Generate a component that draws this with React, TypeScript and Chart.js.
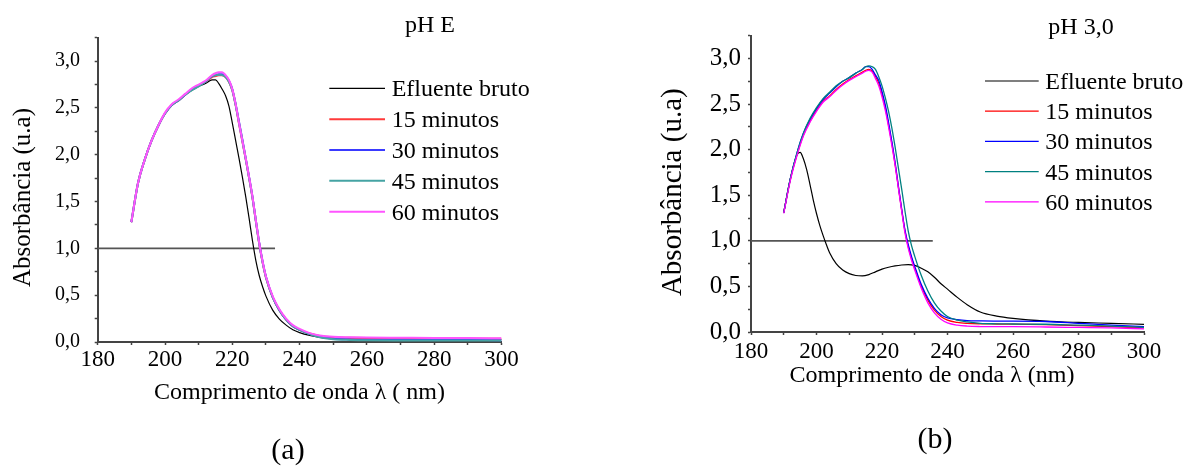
import React, { useEffect, useRef } from 'react';
import { Chart, registerables } from 'chart.js';

Chart.register(...registerables);

const FONT = '"Liberation Serif", "Times New Roman", serif';
const AXIS = '#444444';

// ---------- shared tick definitions ----------
const xMajorTicks = [180, 200, 220, 240, 260, 280, 300];
const yMajorTicks = [0, 0.5, 1, 1.5, 2, 2.5, 3];
const seriesLabels = ['Efluente bruto', '15 minutos', '30 minutos', '45 minutos', '60 minutos'];

// ---------- panel (a) pH E ----------
const wavelengthsA = [190, 192, 194, 196, 198, 200, 202, 204, 206, 208, 210, 212, 214, 215, 216, 217, 218, 219, 220, 221, 222, 223, 224, 225, 226, 227, 228, 229, 230, 232, 234, 236, 238, 240, 243, 246, 250, 255, 260, 270, 280, 290, 300];
const brutoA = [1.28, 1.70, 1.95, 2.15, 2.31, 2.44, 2.53, 2.58, 2.64, 2.69, 2.73, 2.76, 2.80, 2.80, 2.76, 2.70, 2.63, 2.52, 2.34, 2.15, 1.96, 1.76, 1.55, 1.32, 1.08, 0.87, 0.71, 0.59, 0.49, 0.34, 0.245, 0.18, 0.13, 0.10, 0.07, 0.05, 0.035, 0.03, 0.028, 0.027, 0.026, 0.025, 0.025];
const min15A = [1.28, 1.70, 1.95, 2.15, 2.31, 2.44, 2.53, 2.58, 2.64, 2.70, 2.74, 2.78, 2.83, 2.84, 2.85, 2.85, 2.83, 2.78, 2.69, 2.53, 2.33, 2.14, 1.95, 1.75, 1.54, 1.29, 1.05, 0.85, 0.69, 0.48, 0.34, 0.24, 0.17, 0.13, 0.09, 0.065, 0.05, 0.045, 0.042, 0.04, 0.038, 0.036, 0.035];
const min30A = [1.28, 1.70, 1.95, 2.15, 2.31, 2.44, 2.53, 2.58, 2.64, 2.70, 2.74, 2.78, 2.84, 2.85, 2.86, 2.86, 2.84, 2.79, 2.70, 2.54, 2.35, 2.16, 1.96, 1.76, 1.55, 1.30, 1.06, 0.86, 0.70, 0.48, 0.34, 0.24, 0.17, 0.13, 0.085, 0.055, 0.035, 0.028, 0.025, 0.023, 0.022, 0.021, 0.02];
const min45A = [1.28, 1.70, 1.95, 2.15, 2.31, 2.44, 2.53, 2.58, 2.64, 2.69, 2.73, 2.78, 2.84, 2.85, 2.855, 2.85, 2.83, 2.78, 2.69, 2.53, 2.34, 2.15, 1.95, 1.75, 1.54, 1.29, 1.05, 0.85, 0.69, 0.48, 0.34, 0.24, 0.17, 0.13, 0.085, 0.05, 0.03, 0.022, 0.018, 0.016, 0.015, 0.015, 0.015];
const min60A = [1.28, 1.70, 1.95, 2.15, 2.31, 2.45, 2.54, 2.59, 2.65, 2.71, 2.75, 2.79, 2.85, 2.87, 2.88, 2.88, 2.85, 2.80, 2.70, 2.54, 2.34, 2.15, 1.96, 1.76, 1.55, 1.30, 1.06, 0.86, 0.70, 0.49, 0.35, 0.25, 0.18, 0.14, 0.095, 0.07, 0.055, 0.05, 0.047, 0.045, 0.043, 0.042, 0.04];
const refLineA = [180, 232.7];

// ---------- panel (b) pH 3,0 ----------
const wavelengthsB = [190, 192, 194, 196, 198, 200, 202, 204, 206, 208, 210, 212, 214, 215, 216, 217, 218, 219, 220, 221, 222, 223, 224, 225, 226, 227, 228, 229, 230, 232, 234, 236, 238, 240, 243, 246, 250, 255, 260, 270, 280, 290, 300];
const wavelengthsBrutoB = [190, 192, 194, 195, 196, 197, 198, 199, 200, 201, 202, 203, 204, 206, 208, 210, 212, 214, 216, 218, 220, 222, 224, 226, 228, 230, 232, 234, 236, 238, 240, 243, 246, 250, 255, 260, 270, 280, 290, 300];
const brutoB = [1.31, 1.68, 1.94, 1.97, 1.90, 1.78, 1.62, 1.45, 1.30, 1.17, 1.06, 0.96, 0.87, 0.75, 0.68, 0.64, 0.62, 0.615, 0.63, 0.66, 0.69, 0.71, 0.725, 0.735, 0.74, 0.73, 0.70, 0.66, 0.60, 0.53, 0.47, 0.38, 0.30, 0.22, 0.175, 0.15, 0.12, 0.105, 0.095, 0.084];
const min15B = [1.31, 1.67, 1.94, 2.16, 2.31, 2.43, 2.53, 2.59, 2.66, 2.72, 2.77, 2.81, 2.85, 2.87, 2.88, 2.86, 2.80, 2.73, 2.61, 2.46, 2.27, 2.07, 1.84, 1.59, 1.34, 1.11, 0.94, 0.81, 0.70, 0.50, 0.35, 0.24, 0.17, 0.13, 0.105, 0.095, 0.09, 0.088, 0.086, 0.08, 0.07, 0.058, 0.045];
const min30B = [1.31, 1.68, 1.96, 2.18, 2.33, 2.45, 2.55, 2.62, 2.69, 2.75, 2.79, 2.84, 2.88, 2.91, 2.91, 2.88, 2.82, 2.76, 2.64, 2.49, 2.30, 2.09, 1.86, 1.60, 1.35, 1.12, 0.96, 0.83, 0.72, 0.52, 0.37, 0.26, 0.19, 0.155, 0.135, 0.125, 0.122, 0.12, 0.12, 0.115, 0.095, 0.075, 0.058];
const min45B = [1.31, 1.68, 1.96, 2.18, 2.34, 2.46, 2.56, 2.63, 2.70, 2.75, 2.79, 2.84, 2.88, 2.91, 2.92, 2.91, 2.88, 2.80, 2.70, 2.57, 2.42, 2.24, 2.03, 1.80, 1.57, 1.33, 1.11, 0.95, 0.83, 0.62, 0.45, 0.32, 0.23, 0.17, 0.13, 0.11, 0.095, 0.09, 0.088, 0.085, 0.075, 0.065, 0.05];
const min60B = [1.30, 1.66, 1.93, 2.15, 2.30, 2.42, 2.52, 2.58, 2.65, 2.71, 2.76, 2.80, 2.84, 2.86, 2.87, 2.85, 2.78, 2.70, 2.58, 2.43, 2.25, 2.05, 1.83, 1.58, 1.33, 1.09, 0.92, 0.79, 0.68, 0.48, 0.32, 0.21, 0.14, 0.10, 0.075, 0.065, 0.06, 0.058, 0.058, 0.055, 0.05, 0.045, 0.035];
const refLineB = [180, 235.5];

const toPoints = (xs: number[], ys: number[]) => xs.map((x, i) => ({ x, y: ys[i] }));

type Panel = {
  canvasW: number;
  canvasH: number;
  area: { left: number; top: number; right: number; bottom: number };
  colors: string[];
  widths: number[];
  series: { x: number[]; y: number[] }[];
  refLine: number[];
  xTickSize: number;
  yTickSize: number;
  xTickPad: number;
  yTickPad: number;
  annot: any;
};

const panelA: Panel = {
  canvasW: 600,
  canvasH: 466,
  area: { left: 97.7, top: 37.7, right: 501.5, bottom: 342 },
  colors: ['#000000', '#ff3a3a', '#3a3aff', '#45a3a3', '#ff55ff'],
  widths: [1.2, 2, 2, 2, 2],
  series: [
    { x: wavelengthsA, y: brutoA },
    { x: wavelengthsA, y: min15A },
    { x: wavelengthsA, y: min30A },
    { x: wavelengthsA, y: min45A },
    { x: wavelengthsA, y: min60A },
  ],
  refLine: refLineA,
  xTickSize: 23,
  yTickSize: 20,
  xTickPad: 1.5,
  yTickPad: 14.7,
  annot: {
    title: 'pH E', titleX: 405, titleY: 32.3, titleSize: 24,
    legX1: 329.3, legX2: 385, legTextX: 391.7, legY0: 88.3, legStep: 30.85, legSize: 24,
    xTitle: 'Comprimento de onda λ ( nm)', xTitleX: 299.5, xTitleY: 398.7, xTitleSize: 24,
    yTitle: 'Absorbância (u.a)', yTitleX: 29.5, yTitleY: 197.5, yTitleSize: 25,
    caption: '(a)', capX: 288, capY: 451, capSize: 30,
  },
};

const panelB: Panel = {
  canvasW: 586,
  canvasH: 466,
  area: { left: 151, top: 35.7, right: 544, bottom: 332 },
  colors: ['#000000', '#ff0000', '#0000ff', '#008080', '#ff00ff'],
  widths: [1.2, 1.3, 1.3, 1.3, 1.3],
  series: [
    { x: wavelengthsBrutoB, y: brutoB },
    { x: wavelengthsB, y: min15B },
    { x: wavelengthsB, y: min30B },
    { x: wavelengthsB, y: min45B },
    { x: wavelengthsB, y: min60B },
  ],
  refLine: refLineB,
  xTickSize: 23,
  yTickSize: 25,
  xTickPad: 3,
  yTickPad: 7,
  annot: {
    title: 'pH 3,0', titleX: 448.3, titleY: 34.3, titleSize: 24,
    legX1: 385, legX2: 438.7, legTextX: 445.3, legY0: 81, legStep: 30.2, legSize: 24,
    xTitle: 'Comprimento de onda λ (nm)', xTitleX: 332, xTitleY: 382, xTitleSize: 24,
    yTitle: 'Absorbância (u.a)', yTitleX: 80.9, yTitleY: 192.2, yTitleSize: 29,
    caption: '(b)', capX: 335, capY: 440, capSize: 30,
  },
};

const annotPlugin = {
  id: 'annot',
  afterDraw(chart: any, _args: any, o: any) {
    const ctx: CanvasRenderingContext2D = chart.ctx;
    ctx.save();
    ctx.fillStyle = '#000';
    ctx.textAlign = 'left';
    ctx.textBaseline = 'alphabetic';
    // panel title
    ctx.font = `${o.titleSize}px ${FONT}`;
    ctx.fillText(o.title, o.titleX, o.titleY);
    // legend
    ctx.font = `${o.legSize}px ${FONT}`;
    let row = 0;
    chart.data.datasets.forEach((ds: any) => {
      if (!ds.label) return;
      const y = o.legY0 + row * o.legStep;
      ctx.strokeStyle = ds.borderColor;
      ctx.lineWidth = ds.borderWidth;
      ctx.beginPath();
      ctx.moveTo(o.legX1, y);
      ctx.lineTo(o.legX2, y);
      ctx.stroke();
      ctx.fillText(ds.label, o.legTextX, y + 8);
      row++;
    });
    // x axis title
    ctx.textAlign = 'center';
    ctx.font = `${o.xTitleSize}px ${FONT}`;
    ctx.fillText(o.xTitle, o.xTitleX, o.xTitleY);
    // y axis title
    ctx.save();
    ctx.translate(o.yTitleX, o.yTitleY);
    ctx.rotate(-Math.PI / 2);
    ctx.font = `${o.yTitleSize}px ${FONT}`;
    ctx.fillText(o.yTitle, 0, 0);
    ctx.restore();
    // caption
    ctx.textBaseline = 'middle';
    ctx.font = `${o.capSize}px ${FONT}`;
    ctx.fillText(o.caption, o.capX, o.capY);
    ctx.restore();
  },
};

const isMajor = (v: number, list: number[]) => list.some((m) => Math.abs(m - v) < 1e-6);

function buildConfig(p: Panel): any {
  const datasets: any[] = [
    {
      label: '',
      data: toPoints(p.refLine, [1, 1]),
      borderColor: '#555555',
      borderWidth: 1.6,
      pointRadius: 0,
      order: 10,
    },
  ];
  p.series.forEach((s, i) => {
    datasets.push({
      label: seriesLabels[i],
      data: toPoints(s.x, s.y),
      borderColor: p.colors[i],
      borderWidth: p.widths[i],
      pointRadius: 0,
      cubicInterpolationMode: 'monotone',
      order: 5 - i,
    });
  });
  return {
    type: 'line',
    data: { datasets },
    options: {
      responsive: false,
      animation: false,
      devicePixelRatio: 1,
      events: [],
      layout: {
        padding: { left: 0, top: p.area.top, right: p.canvasW - p.area.right, bottom: 0 },
      },
      plugins: {
        legend: { display: false },
        title: { display: false },
        tooltip: { enabled: false },
        annot: p.annot,
      },
      scales: {
        x: {
          type: 'linear',
          min: 180,
          max: 300,
          afterFit: (s: any) => {
            s.height = p.canvasH - p.area.bottom;
          },
          border: { display: true, color: AXIS, width: 2 },
          grid: { drawOnChartArea: false, drawTicks: true, tickLength: 3, tickColor: AXIS, tickWidth: 1.5 },
          ticks: {
            stepSize: 10,
            autoSkip: false,
            maxRotation: 0,
            padding: p.xTickPad,
            color: '#000',
            font: { family: FONT, size: p.xTickSize },
            callback: (v: number) => (isMajor(v, xMajorTicks) ? String(v) : ''),
          },
        },
        y: {
          type: 'linear',
          min: 0,
          max: 3.25,
          afterFit: (s: any) => {
            s.width = p.area.left;
          },
          border: { display: true, color: AXIS, width: 2 },
          grid: { drawOnChartArea: false, drawTicks: true, tickLength: 3, tickColor: AXIS, tickWidth: 1.5 },
          ticks: {
            stepSize: 0.25,
            autoSkip: false,
            padding: p.yTickPad,
            color: '#000',
            font: { family: FONT, size: p.yTickSize },
            callback: (v: number) => (isMajor(v, yMajorTicks) ? v.toFixed(1).replace('.', ',') : ''),
          },
        },
      },
    },
    plugins: [annotPlugin],
  };
}

export default function App() {
  const refA = useRef<HTMLCanvasElement>(null);
  const refB = useRef<HTMLCanvasElement>(null);
  useEffect(() => {
    const a = new Chart(refA.current as HTMLCanvasElement, buildConfig(panelA));
    const b = new Chart(refB.current as HTMLCanvasElement, buildConfig(panelB));
    return () => {
      a.destroy();
      b.destroy();
    };
  }, []);
  return (
    <div style={{ position: 'fixed', left: 0, top: 0, width: 1186, height: 466, background: '#ffffff' }}>
      <canvas
        ref={refA}
        width={600}
        height={466}
        style={{ position: 'absolute', left: 0, top: 0, width: 600, height: 466 }}
      />
      <canvas
        ref={refB}
        width={586}
        height={466}
        style={{ position: 'absolute', left: 600, top: 0, width: 586, height: 466 }}
      />
    </div>
  );
}
